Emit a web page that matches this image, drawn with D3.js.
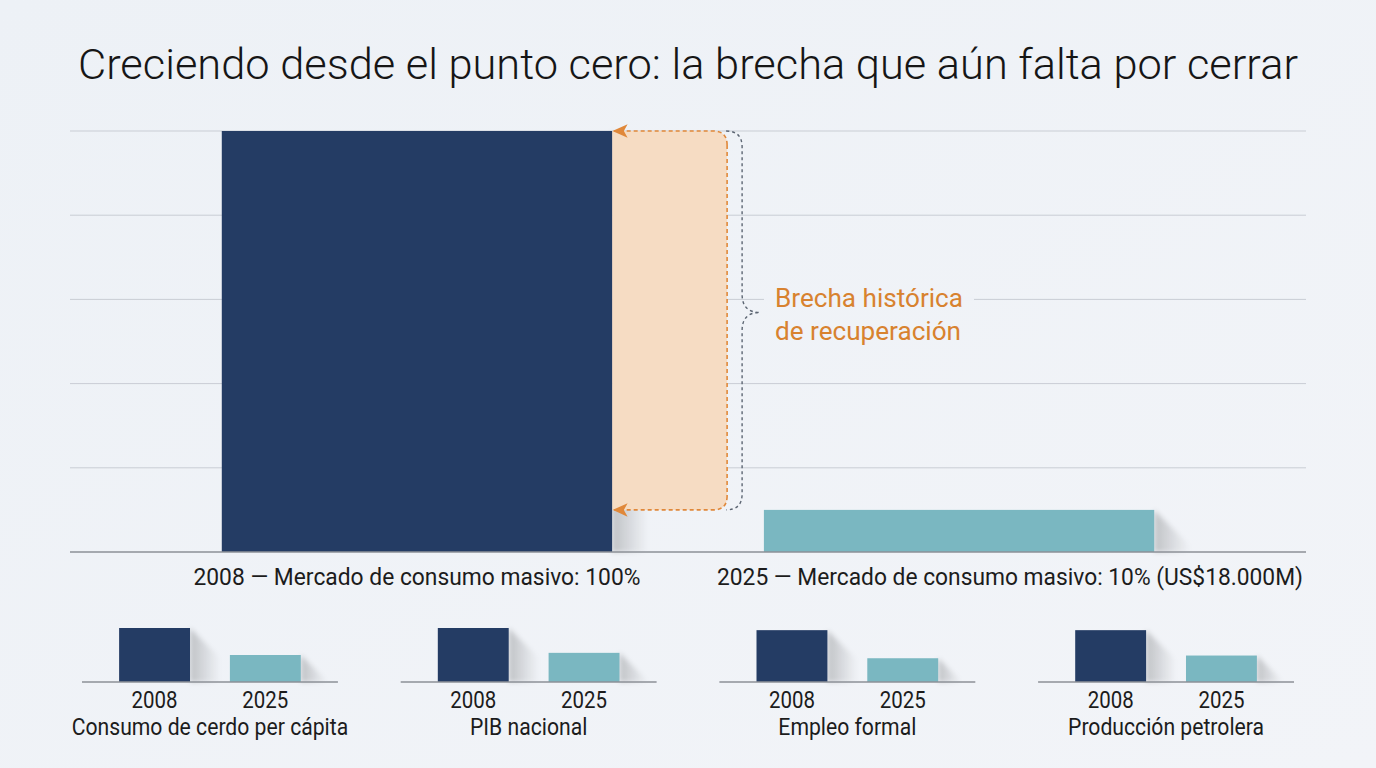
<!DOCTYPE html>
<html>
<head>
<meta charset="utf-8">
<script src="https://cdn.jsdelivr.net/npm/d3@7"></script>
<style>
  html, body { margin: 0; padding: 0; }
  body { width: 1376px; height: 768px; overflow: hidden; font-family: Roboto, "Noto Sans", sans-serif; }
</style>
</head>
<body>
<div id="chart"></div>
<script>
// main chart data
var mainYears = ["2008", "2025"];
var mainValues = [100, 10];
var mainLabels = ["2008 \u2014 Mercado de consumo masivo: 100%", "2025 \u2014 Mercado de consumo masivo: 10% (US$18.000M)"];
var gridTicks = [0, 20, 40, 60, 80, 100];

// small multiples data
var panelTitles = ["Consumo de cerdo per cápita", "PIB nacional", "Empleo formal", "Producción petrolera"];
var panelYears = ["2008", "2025"];
var values2008 = [100, 100, 96, 96];
var values2025 = [50, 54, 44, 49];

var gapLabel = ["Brecha histórica", "de recuperación"];

var W = 1376, H = 768;
var navy = "#243c64", teal = "#7ab7c1", orange = "#e0883a", orangeText = "#d8822f";

var svg = d3.select("#chart").append("svg").attr("width", W).attr("height", H);
var defs = svg.append("defs");

var bg = defs.append("linearGradient").attr("id", "bg").attr("x1", 0).attr("y1", 0).attr("x2", 1).attr("y2", 1);
bg.append("stop").attr("offset", "0%").attr("stop-color", "#edf1f6");
bg.append("stop").attr("offset", "100%").attr("stop-color", "#f2f4f8");
svg.append("rect").attr("width", W).attr("height", H).attr("fill", "url(#bg)");

var sg = defs.append("linearGradient").attr("id", "shadowGrad").attr("x1", 0).attr("y1", 0).attr("x2", 1).attr("y2", 0);
sg.append("stop").attr("offset", "0%").attr("stop-color", "#000").attr("stop-opacity", 0.2);
sg.append("stop").attr("offset", "100%").attr("stop-color", "#000").attr("stop-opacity", 0);
defs.append("filter").attr("id", "blur").attr("x", "-20%").attr("y", "-20%").attr("width", "140%").attr("height", "140%")
  .append("feGaussianBlur").attr("stdDeviation", 2.5);

// arrowhead: tip at x=10, drawn along the path direction
defs.append("marker").attr("id", "arrow").attr("viewBox", "0 0 10 10").attr("refX", 9).attr("refY", 5)
  .attr("markerUnits", "userSpaceOnUse").attr("markerWidth", 15).attr("markerHeight", 15)
  .attr("orient", "auto")
  .append("path").attr("d", "M10,5 L0,0.5 L2.5,5 L0,9.5 Z").attr("fill", orange);

// title
svg.append("text").attr("x", W / 2).attr("y", 79).attr("text-anchor", "middle")
  .attr("font-size", 42).attr("font-weight", 300).attr("fill", "#161616")
  .attr("textLength", 1220).attr("lengthAdjust", "spacingAndGlyphs")
  .text("Creciendo desde el punto cero: la brecha que aún falta por cerrar");

// ---- main chart ----
var x = d3.scaleBand().domain(mainYears).range([70, 1306]).paddingInner(0.28).paddingOuter(0.28);
var y = d3.scaleLinear().domain([0, 100]).range([552, 131]);

svg.append("g").selectAll("line").data(gridTicks.filter(d => d > 0)).enter().append("line")
  .attr("x1", x.range()[0]).attr("x2", x.range()[1])
  .attr("y1", d => y(d)).attr("y2", d => y(d))
  .attr("stroke", "#c9cdd4").attr("stroke-width", 1);

function shadow(g, x0, top, base, w) {
  var len = Math.min(w, base - top);
  g.append("path")
    .attr("d", "M" + x0 + "," + top + " L" + (x0 + len) + "," + (top + len) + " L" + (x0 + len) + "," + base + " L" + x0 + "," + base + " Z")
    .attr("fill", "url(#shadowGrad)").attr("filter", "url(#blur)");
}

var mainG = svg.append("g");
mainYears.forEach(function (yr, i) {
  shadow(mainG, x(yr) + x.bandwidth(), y(mainValues[i]), y(0), 36);
});

// gap region
var gapX0 = x("2008") + x.bandwidth(), gapX1 = gapX0 + 115;
var gTop = y(mainValues[0]), gBot = y(mainValues[1]), r = 14;
mainG.append("path")
  .attr("d", "M" + gapX0 + "," + gTop + " H" + (gapX1 - r) + " Q" + gapX1 + "," + gTop + " " + gapX1 + "," + (gTop + r) +
    " V" + (gBot - r) + " Q" + gapX1 + "," + gBot + " " + (gapX1 - r) + "," + gBot + " H" + gapX0 + " Z")
  .attr("fill", "#f6dcc3");

mainG.selectAll("rect.bar").data(mainYears).enter().append("rect").attr("class", "bar")
  .attr("x", d => x(d)).attr("width", x.bandwidth())
  .attr("y", (d, i) => y(mainValues[i])).attr("height", (d, i) => y(0) - y(mainValues[i]))
  .attr("fill", (d, i) => i === 0 ? navy : teal);

// dashed orange outline with arrows
[gTop, gBot].forEach(function (yy, k) {
  var dir = k === 0 ? 1 : -1;
  mainG.append("path")
    .attr("d", "M" + (gapX1) + "," + (yy + dir * r) + " Q" + gapX1 + "," + yy + " " + (gapX1 - r) + "," + yy + " H" + (gapX0 + 2))
    .attr("fill", "none").attr("stroke", orange).attr("stroke-width", 1.6).attr("stroke-dasharray", "4,3")
    .attr("marker-end", "url(#arrow)");
});
mainG.append("line").attr("x1", gapX1).attr("x2", gapX1).attr("y1", gTop + r).attr("y2", gBot - r)
  .attr("stroke", orange).attr("stroke-width", 1.6).attr("stroke-dasharray", "4,3");

// curly brace
var bx = gapX1 - 1, bm = (gTop + gBot) / 2 - 8;
mainG.append("path")
  .attr("d", "M" + bx + "," + gTop + " Q" + (bx + 16) + "," + gTop + " " + (bx + 16) + "," + (gTop + 16) +
    " V" + (bm - 18) + " Q" + (bx + 16) + "," + bm + " " + (bx + 34) + "," + bm +
    " Q" + (bx + 16) + "," + bm + " " + (bx + 16) + "," + (bm + 18) +
    " V" + (gBot - 16) + " Q" + (bx + 16) + "," + gBot + " " + bx + "," + gBot)
  .attr("fill", "none").attr("stroke", "#5d6673").attr("stroke-width", 1.4).attr("stroke-dasharray", "3,3");

// gap label
mainG.append("rect").attr("x", 764).attr("y", y(60) - 2).attr("width", 210).attr("height", 4).attr("fill", "#eff2f7");
mainG.selectAll("text.gap").data(gapLabel).enter().append("text").attr("class", "gap")
  .attr("x", 775).attr("y", (d, i) => 307 + i * 33)
  .attr("font-size", 26).attr("fill", orangeText)
  .attr("textLength", (d, i) => i === 0 ? 188 : 186).attr("lengthAdjust", "spacingAndGlyphs")
  .text(d => d);

// baseline
mainG.append("line").attr("x1", x.range()[0]).attr("x2", x.range()[1]).attr("y1", y(0)).attr("y2", y(0))
  .attr("stroke", "#8c9097").attr("stroke-width", 1.5);

// category labels
mainG.append("text").attr("x", x("2008") + x.bandwidth() / 2).attr("y", 585).attr("text-anchor", "middle")
  .attr("font-size", 24).attr("fill", "#1c1c1c").attr("textLength", 447).attr("lengthAdjust", "spacingAndGlyphs")
  .text(mainLabels[0]);
mainG.append("text").attr("x", x.range()[1] - 3).attr("y", 585).attr("text-anchor", "end")
  .attr("font-size", 24).attr("fill", "#1c1c1c").attr("textLength", 586).attr("lengthAdjust", "spacingAndGlyphs")
  .text(mainLabels[1]);

// ---- small multiples ----
var panelX = d3.scaleBand().domain(panelTitles).range([82, 1294]).paddingInner(0.197).paddingOuter(0);
var py = d3.scaleLinear().domain([0, 100]).range([682, 628]);

panelTitles.forEach(function (t, i) {
  var p0 = panelX(t), pw = panelX.bandwidth();
  var px = d3.scaleBand().domain(panelYears).range([p0, p0 + pw]).paddingInner(0.36).paddingOuter(0.335);
  var vals = [values2008[i], values2025[i]];
  var g = svg.append("g");
  panelYears.forEach(function (yr, j) {
    shadow(g, px(yr) + px.bandwidth(), py(vals[j]), py(0), 30);
  });
  g.selectAll("rect").data(panelYears).enter().append("rect")
    .attr("x", d => px(d)).attr("width", px.bandwidth())
    .attr("y", (d, j) => py(vals[j])).attr("height", (d, j) => py(0) - py(vals[j]))
    .attr("fill", (d, j) => j === 0 ? navy : teal);
  g.append("line").attr("x1", p0).attr("x2", p0 + pw).attr("y1", py(0)).attr("y2", py(0))
    .attr("stroke", "#8c9097").attr("stroke-width", 1.5);
  g.selectAll("text.yr").data(panelYears).enter().append("text").attr("class", "yr")
    .attr("x", d => px(d) + px.bandwidth() / 2).attr("y", 708).attr("text-anchor", "middle")
    .attr("font-size", 23).attr("fill", "#1c1c1c")
    .attr("textLength", 46).attr("lengthAdjust", "spacingAndGlyphs")
    .text(d => d);
  var tt = g.append("text").attr("x", p0 + pw / 2).attr("y", 735).attr("text-anchor", "middle")
    .attr("font-size", 23).attr("fill", "#1c1c1c")
    .text(t);
  // condense to match the narrow face of the original
  var natural = tt.node().getComputedTextLength();
  tt.attr("textLength", natural * 0.92).attr("lengthAdjust", "spacingAndGlyphs");
});
</script>
</body>
</html>
